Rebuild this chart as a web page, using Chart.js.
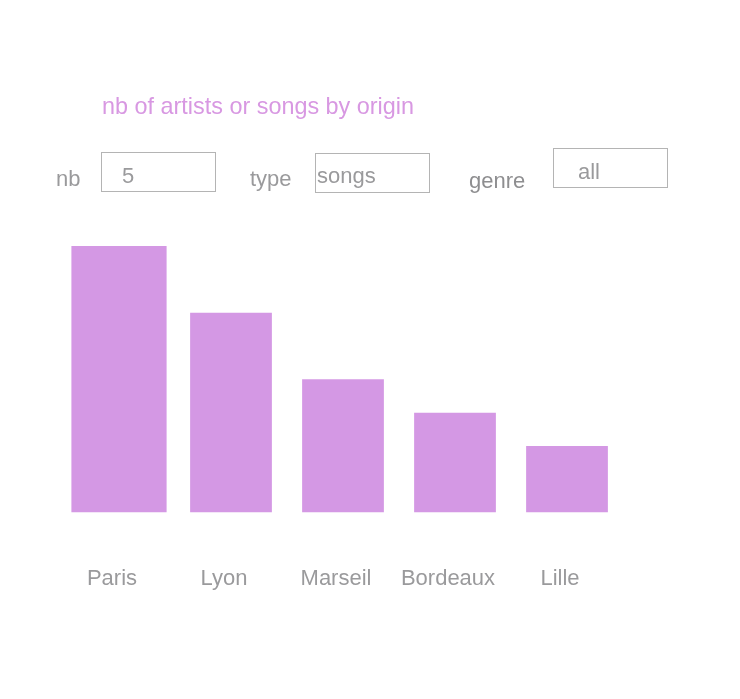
<!DOCTYPE html>
<html>
<head>
<meta charset="utf-8">
<script src="https://cdn.jsdelivr.net/npm/chart.js@4"></script>
<style>
  body { margin: 0; background: #fff; font-family: "Liberation Sans", Arial, sans-serif; }
  #wrap { position: relative; width: 740px; height: 699px; }
  #chart { position: absolute; left: 0; top: 0; }
  .lbl { position: absolute; color: #9a9a9c; font-size: 22px; line-height: 26px; }
  .box { position: absolute; box-sizing: border-box; border: 1.5px solid #b4b4b4; background: transparent;
         color: #9a9a9c; font-family: inherit; font-size: 22px; outline: none; padding: 8px 0 0 0; }
  #title { position: absolute; left: 102px; top: 93px; color: #d898e2; font-size: 23.4px; line-height: 26px; }
</style>
</head>
<body>
<div id="wrap">
  <canvas id="chart" width="740" height="699"></canvas>
  <div id="title">nb of artists or songs by origin</div>
  <div class="lbl" style="left:56px;top:166px">nb</div>
  <input class="box" style="left:101px;top:152px;width:115px;height:40px;padding-left:20px" value="5">
  <div class="lbl" style="left:250px;top:166px">type</div>
  <input class="box" style="left:315px;top:153px;width:115px;height:40px;padding-left:1px;padding-top:6px" value="songs">
  <div class="lbl" style="left:469px;top:168px;color:#8e8e90;font-weight:500">genre</div>
  <input class="box" style="left:553px;top:148px;width:115px;height:40px;padding-left:24px" value="all">
</div>
<script>
const cities = ["Paris", "Lyon", "Marseil", "Bordeaux", "Lille"];
const counts = [8, 6, 4, 3, 2];

const barColor = "#d498e4";

// Paris is drawn a bit wider than the others
const firstOnly = counts.map((v, i) => (i === 0 ? v : null));
const theRest = counts.map((v, i) => (i === 0 ? null : v));

const chart = new Chart(document.getElementById("chart"), {
  type: "bar",
  data: {
    labels: cities,
    datasets: [
      {
        data: firstOnly,
        backgroundColor: barColor,
        categoryPercentage: 1,
        barPercentage: 0.85,
      },
      {
        data: theRest,
        backgroundColor: barColor,
        categoryPercentage: 1,
        barPercentage: 0.73,
      },
    ],
  },
  options: {
    responsive: false,
    animation: false,
    layout: {
      padding: { top: 246, left: 63, right: 117, bottom: 54 },
    },
    datasets: { bar: { grouped: false } },
    scales: {
      y: {
        display: false,
        min: 0,
        max: 8,
      },
      x: {
        grid: { display: false, drawTicks: false },
        border: { display: false },
        ticks: {
          color: "#9a9a9c",
          padding: 53,
          labelOffset: -7,
          font: { family: "Liberation Sans", size: 22 },
        },
      },
    },
    plugins: {
      legend: { display: false },
      tooltip: { enabled: false },
    },
  },
});
</script>
</body>
</html>
